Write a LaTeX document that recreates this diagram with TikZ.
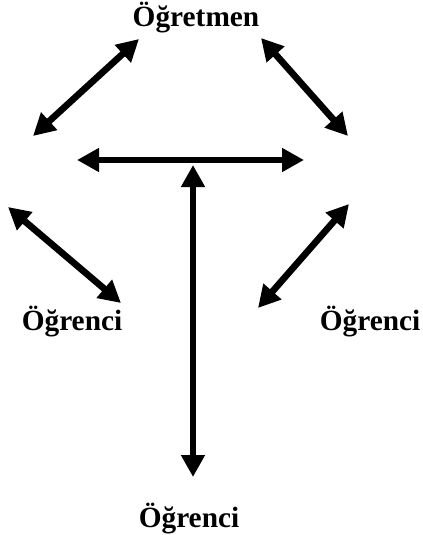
\documentclass[tikz,border=0pt]{standalone}
\usepackage{fontspec}
\setmainfont{Liberation Serif}
\usetikzlibrary{arrows.meta}

\tikzset{every picture/.style={line width=0.75pt}}
\tikzset{
  dblarrow/.style={line width=5pt, {Triangle[length=16.5pt,width=17pt]}-{Triangle[length=16.5pt,width=17pt]}},
  rolelabel/.style={inner sep=0.75pt, font=\fontsize{22}{26}\selectfont\bfseries}
}

\begin{document}
\begin{tikzpicture}[x=0.75pt,y=0.75pt,yscale=-1,xscale=1]
\useasboundingbox (0,0) rectangle (422,535);

% Text Node
\node [rolelabel] (teacher) at (196,18) {Öğretmen};
% Text Node
\node [rolelabel] (studentL) at (72,322) {Öğrenci};
% Text Node
\node [rolelabel] (studentR) at (370,322) {Öğrenci};
% Text Node
\node [rolelabel] (studentB) at (189,519) {Öğrenci};

% arrow end points
\coordinate (tlA) at (33,136);
\coordinate (tlB) at (139,39);
\coordinate (trA) at (261,38);
\coordinate (trB) at (348,136);
\coordinate (hL) at (77,160);
\coordinate (hR) at (304,160);
\coordinate (vT) at (193,165);
\coordinate (vB) at (193,477);
\coordinate (blA) at (8,207);
\coordinate (blB) at (121,303);
\coordinate (brA) at (349,204);
\coordinate (brB) at (258,308);

%Arrows
\draw [dblarrow] (tlA) -- (tlB);
\draw [dblarrow] (trA) -- (trB);
\draw [dblarrow] (hL) -- (hR);
\draw [dblarrow] (vT) -- (vB);
\draw [dblarrow] (blA) -- (blB);
\draw [dblarrow] (brA) -- (brB);

\end{tikzpicture}
\end{document}
